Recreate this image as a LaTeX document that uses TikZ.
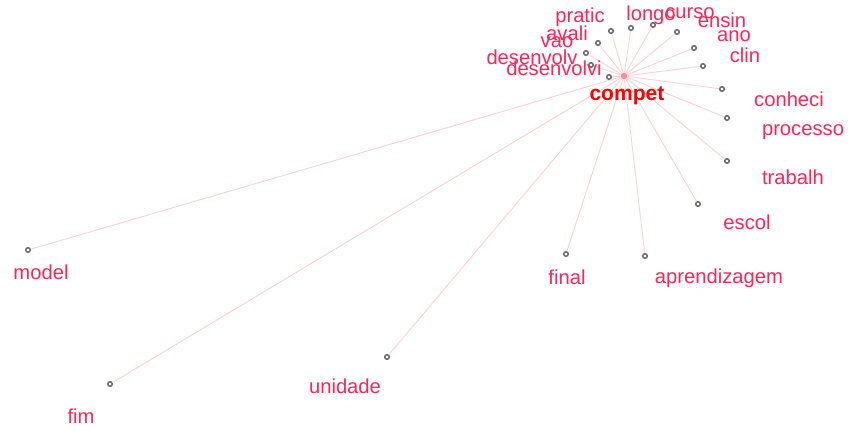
\documentclass[tikz,border=0pt]{standalone}
\usepackage{fontspec}
\setmainfont{Liberation Sans}
\usepackage{xcolor}
\definecolor{wdred}{HTML}{FF2458}
\definecolor{wdhub}{HTML}{FF0000}
\definecolor{wdedge}{HTML}{FFCFD4}
\definecolor{wddot}{HTML}{6E6E6E}
\begin{document}
\begin{tikzpicture}[x=0.02cm, y=-0.02cm,
  wdot/.style={circle, draw=wddot, fill=white, line width=0.9pt, minimum size=0.09cm, inner sep=0pt},
  whub/.style={circle, fill=wdhub!45, minimum size=0.13cm, inner sep=0pt},
  wlabel/.style={text=wdred, font=\fontsize{11.5}{13}\selectfont, inner sep=0pt},
  wedge/.style={draw=wdedge, line width=0.5pt}]
  \useasboundingbox (0,0) rectangle (852,430);
  \node[whub] (compet) at (624,76) {};
  \node[wdot] (pratic) at (611,31) {};
  \node[wdot] (longo) at (631,28) {};
  \node[wdot] (curso) at (653,25) {};
  \node[wdot] (ensin) at (677,32) {};
  \node[wdot] (avali) at (598,43) {};
  \node[wdot] (ano) at (694,48) {};
  \node[wdot] (vao) at (586,53) {};
  \node[wdot] (desenvolv) at (591,65) {};
  \node[wdot] (clin) at (703,66) {};
  \node[wdot] (desenvolvi) at (609,77) {};
  \node[wdot] (conheci) at (722,89) {};
  \node[wdot] (processo) at (727,118) {};
  \node[wdot] (trabalh) at (727,161) {};
  \node[wdot] (escol) at (698,204) {};
  \node[wdot] (aprendizagem) at (645,256) {};
  \node[wdot] (final) at (566,254) {};
  \node[wdot] (unidade) at (387,357) {};
  \node[wdot] (fim) at (110,384) {};
  \node[wdot] (model) at (28,250) {};
  \draw[wedge] (compet) -- (pratic);
  \draw[wedge] (compet) -- (longo);
  \draw[wedge] (compet) -- (curso);
  \draw[wedge] (compet) -- (ensin);
  \draw[wedge] (compet) -- (avali);
  \draw[wedge] (compet) -- (ano);
  \draw[wedge] (compet) -- (vao);
  \draw[wedge] (compet) -- (desenvolv);
  \draw[wedge] (compet) -- (clin);
  \draw[wedge] (compet) -- (desenvolvi);
  \draw[wedge] (compet) -- (conheci);
  \draw[wedge] (compet) -- (processo);
  \draw[wedge] (compet) -- (trabalh);
  \draw[wedge] (compet) -- (escol);
  \draw[wedge] (compet) -- (aprendizagem);
  \draw[wedge] (compet) -- (final);
  \draw[wedge] (compet) -- (unidade);
  \draw[wedge] (compet) -- (fim);
  \draw[wedge] (compet) -- (model);
  \node[text=wdhub, font=\fontsize{12}{14}\selectfont\bfseries, inner sep=0pt] (lcompet) at (627,96) {compet};
  \node[wlabel] (lpratic) at (580,17) {pratic};
  \node[wlabel] (llongo) at (651,15) {longo};
  \node[wlabel] (lcurso) at (690,13) {curso};
  \node[wlabel] (lensin) at (722,20) {ensin};
  \node[wlabel] (lavali) at (567,33) {avali};
  \node[wlabel] (lano) at (734,36) {ano};
  \node[wlabel] (lvao) at (557,42) {vao};
  \node[wlabel] (ldesenvolv) at (532,57) {desenvolv};
  \node[wlabel] (lclin) at (745,55) {clin};
  \node[wlabel] (ldesenvolvi) at (554,68) {desenvolvi};
  \node[wlabel] (lconheci) at (789,99) {conheci};
  \node[wlabel] (lprocesso) at (803,132) {processo};
  \node[wlabel] (ltrabalh) at (793,177) {trabalh};
  \node[wlabel] (lescol) at (747,222) {escol};
  \node[wlabel] (laprendizagem) at (719,278) {aprendizagem};
  \node[wlabel] (lfinal) at (567,277) {final};
  \node[wlabel] (lunidade) at (345,386) {unidade};
  \node[wlabel] (lfim) at (81,416) {fim};
  \node[wlabel] (lmodel) at (41,272) {model};
\end{tikzpicture}
\end{document}
